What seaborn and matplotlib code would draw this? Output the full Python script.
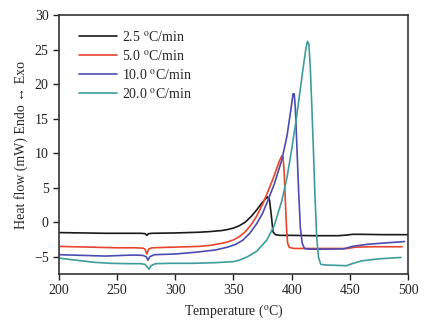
import numpy as np
import pandas as pd
import seaborn as sns
import matplotlib.pyplot as plt

# heating rates shown in the legend
rates = ["2.5", "5.0", "10.0", "20.0"]

temp_25 = [200, 220, 240, 260, 270, 274, 275.5, 277, 280, 300, 320, 330, 340, 345, 350, 355, 360,
           365, 370, 374, 377, 379.4, 381, 382.5, 384, 386, 390, 400, 420, 440, 448, 452, 460, 480,
           500]
flow_25 = [-1.5, -1.55, -1.6, -1.6, -1.6, -1.65, -1.9, -1.65, -1.6, -1.55, -1.45, -1.35, -1.2,
           -1.05, -0.85, -0.5, 0.0, 0.8, 1.8, 2.7, 3.3, 3.67, 3.2, 1.0, -1.4, -1.8, -1.9, -1.9,
           -1.95, -1.95, -1.85, -1.75, -1.75, -1.8, -1.8]

temp_50 = [200, 225, 250, 265, 272, 274, 275.5, 277, 280, 300, 320, 330, 340, 345, 350, 355, 360,
           365, 370, 375, 380, 384, 387, 389.5, 391.5, 392.5, 393.5, 394.5, 395.5, 396.5, 398, 402,
           420, 440, 448, 455, 470, 495]
flow_50 = [-3.5, -3.6, -3.7, -3.7, -3.75, -3.9, -4.6, -3.9, -3.7, -3.6, -3.5, -3.35, -3.05, -2.85,
           -2.55, -2.1, -1.4, -0.4, 0.9, 2.6, 4.6, 6.3, 7.7, 8.9, 9.6, 9.5, 7.5, 3.5, -0.5, -3.0,
           -3.65, -3.8, -3.8, -3.8, -3.8, -3.6, -3.55, -3.55]

temp_100 = [200, 220, 240, 255, 265, 272, 275, 276.5, 278, 282, 300, 320, 335, 345, 352, 358, 364,
            370, 375, 379.7, 385, 391.5, 396, 399.5, 401.2, 402.2, 403.2, 404.5, 406, 407.5, 409,
            411, 415, 430, 445, 452, 465, 480, 497]
flow_100 = [-4.7, -4.8, -4.9, -4.8, -4.75, -4.8, -5.0, -5.5, -5.0, -4.7, -4.6, -4.3, -4.0, -3.6,
            -3.2, -2.6, -1.6, -0.2, 1.3, 3.2, 5.5, 9.0, 12.5, 16.5, 18.6, 18.6, 16.5, 11.0, 4.5,
            -0.8, -3.0, -3.8, -3.9, -3.9, -3.85, -3.5, -3.2, -3.0, -2.8]

temp_200 = [200, 215, 230, 245, 260, 270, 274, 276, 277.5, 279, 283, 295, 315, 335, 350, 355, 362,
            370, 378.6, 385, 391.7, 396, 400, 404, 407.3, 410, 412.3, 413.6, 414.8, 416, 417.3,
            418.6, 420, 421.5, 423, 425, 430, 440, 447, 452, 460, 475, 494]
flow_200 = [-5.2, -5.5, -5.8, -5.95, -6.0, -6.0, -6.1, -6.5, -6.8, -6.3, -6.0, -5.95, -5.95, -5.85,
            -5.7, -5.5, -5.0, -4.2, -2.6, -0.5, 3.2, 6.5, 10.5, 15.0, 19.1, 22.5, 25.2, 26.2, 25.8,
            22.5, 17.0, 11.0, 4.0, -2.0, -5.0, -6.1, -6.2, -6.25, -6.3, -6.0, -5.6, -5.3, -5.1]

x_ticks = [200, 250, 300, 350, 400, 450, 500]
y_ticks = [-5, 0, 5, 10, 15, 20, 25, 30]

frames = []
for rate, t, f in zip(rates, [temp_25, temp_50, temp_100, temp_200],
                      [flow_25, flow_50, flow_100, flow_200]):
    frames.append(pd.DataFrame({"T": t, "flow": f, "rate": rate}))
df = pd.concat(frames, ignore_index=True)

sns.set_style("ticks")
plt.rcParams["font.family"] = ["Liberation Serif", "DejaVu Serif"]
plt.rcParams["mathtext.fontset"] = "stix"

palette = {"2.5": "#1a1a1a", "5.0": "#e8452c", "10.0": "#4b4bb0", "20.0": "#3e9c9c"}

fig = plt.figure(figsize=(4.34, 3.22), dpi=100)
ax = fig.add_axes([0.136, 0.149, 0.804, 0.804])
sns.lineplot(data=df, x="T", y="flow", hue="rate", palette=palette, sort=False,
             linewidth=1.2, ax=ax)

ax.set_xlim(200, 500)
ax.set_ylim(-7.5, 30)
ax.set_xticks(x_ticks)
ax.set_yticks(y_ticks)
ax.tick_params(direction="out", length=4, width=1, labelsize=10, colors="#222222",
               top=False, right=False)
for s in ax.spines.values():
    s.set_visible(True)
    s.set_linewidth(1.2)
    s.set_color("#333333")

ax.set_xlabel(r"Temperature ($^{\rm o}$C)", fontsize=10)
ax.set_ylabel("Heat flow (mW) Endo \u2194 Exo", fontsize=10)

handles, labels = ax.get_legend_handles_labels()
ax.legend(handles, [r"%s $^{\rm o}$C/min" % r for r in labels], loc="upper left",
          frameon=False, fontsize=10, handlelength=2.8, handletextpad=0.3,
          labelspacing=0.35, bbox_to_anchor=(0.02, 0.99))

fig.savefig("out.png", dpi=100)
